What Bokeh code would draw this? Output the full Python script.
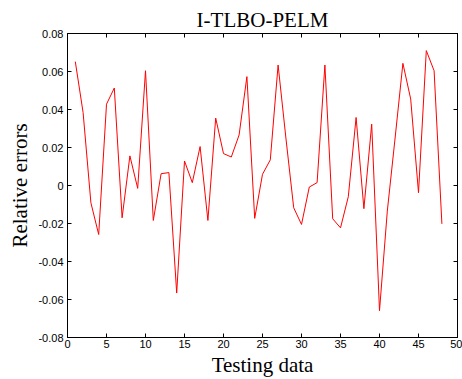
from bokeh.plotting import figure
from bokeh.models import LinearAxis, FixedTicker, CustomJSTickFormatter, Range1d
from bokeh.embed import file_html
from bokeh.resources import INLINE

# ---- data ----
sample_index = list(range(1, 49))
relative_errors = [
    0.0652, 0.0384, -0.0091, -0.0258, 0.0428, 0.0513, -0.0170, 0.0156, -0.0015, 0.0604,
    -0.0184, 0.0062, 0.0068, -0.0566, 0.0129, 0.0015, 0.0205, -0.0184, 0.0355, 0.0168,
    0.0150, 0.0266, 0.0573, -0.0173, 0.0059, 0.0135, 0.0634, 0.0250, -0.0117, -0.0205,
    -0.0008, 0.0015, 0.0634, -0.0175, -0.0223, -0.0059, 0.0358, -0.0122, 0.0323, -0.0659,
    -0.0135, 0.0250, 0.0643, 0.0455, -0.0038, 0.0710, 0.0604, -0.0202,
]
x_ticks = [0, 5, 10, 15, 20, 25, 30, 35, 40, 45, 50]
y_ticks = [-0.08, -0.06, -0.04, -0.02, 0, 0.02, 0.04, 0.06, 0.08]
title_text = "I-TLBO-PELM"
x_label = "Testing data"
y_label = "Relative errors"

SERIF = "Liberation Serif"
SANS = "Liberation Sans"

p = figure(width=462, height=379, output_backend="svg", toolbar_location=None,
           x_range=Range1d(0, 50), y_range=Range1d(-0.08, 0.08),
           title=title_text, x_axis_label=x_label, y_axis_label=y_label,
           min_border_left=67, min_border_right=5, min_border_top=33, min_border_bottom=5)

p.line(sample_index, relative_errors, line_color="red", line_width=1)

p.grid.visible = False
p.background_fill_color = "white"
p.border_fill_color = "white"
p.outline_line_color = "black"
p.outline_line_width = 1

p.title.text_font = SERIF
p.title.text_font_style = "normal"
p.title.text_font_size = "21px"
p.title.align = "center"
p.title.text_color = "black"
p.title.offset = 0
p.title.standoff = 3

yfmt = CustomJSTickFormatter(code="""
var v = Math.round(tick*100)/100;
if (Math.abs(v) < 1e-9) return "0";
return v.toFixed(2);
""")

def style_axis(ax, show_labels):
    ax.major_tick_in = 4
    ax.major_tick_out = 0
    ax.minor_tick_in = 0
    ax.minor_tick_out = 0
    ax.axis_line_color = "black"
    ax.major_tick_line_color = "black"
    ax.major_label_text_font = SANS
    if show_labels:
        ax.major_label_text_font_size = "11px"
        ax.major_label_text_color = "black"
    else:
        ax.major_label_text_font_size = "1px"
        ax.major_label_text_color = None
    ax.axis_label_text_font = SERIF
    ax.axis_label_text_font_style = "normal"
    ax.axis_label_text_font_size = "21px"
    ax.axis_label_text_color = "black"

xa = p.xaxis[0]
xa.ticker = FixedTicker(ticks=x_ticks)
style_axis(xa, True)
xa.major_label_standoff = 2
xa.axis_label_standoff = 2

ya = p.yaxis[0]
ya.ticker = FixedTicker(ticks=y_ticks)
ya.formatter = yfmt
style_axis(ya, True)
ya.major_label_standoff = 4
ya.axis_label_standoff = 3

top = LinearAxis(ticker=FixedTicker(ticks=x_ticks))
style_axis(top, False)
top.major_label_standoff = 0
p.add_layout(top, "above")

right = LinearAxis(ticker=FixedTicker(ticks=y_ticks))
style_axis(right, False)
right.major_label_standoff = 0
p.add_layout(right, "right")

open("out.html", "w").write(file_html(p, INLINE))
